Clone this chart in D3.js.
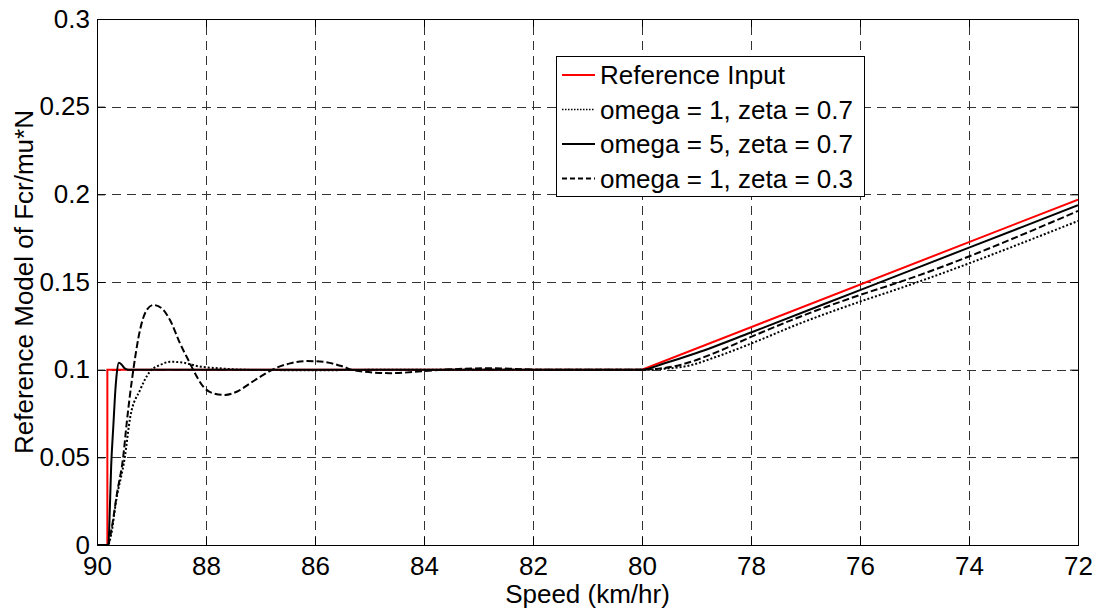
<!DOCTYPE html>
<html>
<head>
<meta charset="utf-8">
<script src="https://cdn.jsdelivr.net/npm/d3@7"></script>
<style>
  body { margin: 0; background: #fff; }
  text { font-family: "Liberation Sans", Arial, sans-serif; fill: #000; }
</style>
</head>
<body>
<svg id="chart" width="1098" height="610"></svg>
<script>
// Axis ticks
const speedTicks = [90, 88, 86, 84, 82, 80, 78, 76, 74, 72];
const valueTicks = [0, 0.05, 0.1, 0.15, 0.2, 0.25, 0.3];
const valueTickLabels = ["0", "0.05", "0.1", "0.15", "0.2", "0.25", "0.3"];

// Series: [speed (km/hr), normalised force]
const referenceInput = [
  [90, 0], [89.81, 0], [89.81, 0.1], [80, 0.1], [72, 0.197]
];
const omega1Zeta07 = [
  [90, 0], [89.80, 0], [89.74, 0.006], [89.65, 0.025], [89.49, 0.05],
  [89.39, 0.073], [89.21, 0.0884], [89.03, 0.0989], [88.84, 0.1027],
  [88.66, 0.1045], [88.42, 0.104], [88.17, 0.1021], [87.68, 0.1006],
  [87.07, 0.0998], [85.91, 0.0997], [84.44, 0.1], [80, 0.1],
  [79.24, 0.1017], [78.63, 0.1074], [77.99, 0.115], [77.10, 0.1264],
  [76.0, 0.1388], [75.27, 0.1464], [72, 0.1848]
];
const omega5Zeta07 = [
  [90, 0], [89.79, 0], [89.77, 0.015], [89.74, 0.045], [89.70, 0.068],
  [89.67, 0.085], [89.64, 0.097], [89.60, 0.104], [89.55, 0.103],
  [89.50, 0.101], [89.43, 0.1], [80, 0.1], [79.6, 0.1035], [79, 0.1095],
  [78, 0.1212], [76, 0.1454], [74, 0.1696], [72, 0.1938]
];
const omega1Zeta03 = [
  [90, 0], [89.80, 0], [89.74, 0.008], [89.63, 0.03], [89.52, 0.05],
  [89.45, 0.071], [89.334, 0.0998], [89.211, 0.1226], [89.088, 0.134],
  [88.967, 0.1369], [88.813, 0.135], [88.661, 0.1283], [88.477, 0.115],
  [88.294, 0.1036], [88.233, 0.0998], [88.05, 0.0903], [87.866, 0.0865],
  [87.651, 0.0856], [87.437, 0.0874], [87.193, 0.0922], [86.949, 0.097],
  [86.794, 0.0998], [86.459, 0.1036], [86.152, 0.1049], [85.848, 0.1045],
  [85.481, 0.1017], [85.303, 0.0998], [84.624, 0.098], [83.651, 0.1],
  [82.789, 0.1008], [81.872, 0.1], [80, 0.1], [79.30, 0.1027],
  [78.63, 0.110], [77.99, 0.1188], [77.10, 0.1302], [76.0, 0.1426],
  [75.27, 0.150], [72, 0.1905]
];

const legendLabels = [
  "Reference Input",
  "omega = 1, zeta = 0.7",
  "omega = 5, zeta = 0.7",
  "omega = 1, zeta = 0.3"
];

const plot = { left: 97, right: 1078, top: 19, bottom: 545 };
const fontSize = 26;

const svg = d3.select("#chart");

const x = d3.scaleLinear().domain([90, 72]).range([plot.left, plot.right]);
const y = d3.scaleLinear().domain([0, 0.3]).range([plot.bottom, plot.top]);

// Plot background
svg.append("rect")
  .attr("x", plot.left).attr("y", plot.top)
  .attr("width", plot.right - plot.left).attr("height", plot.bottom - plot.top)
  .attr("fill", "#fff");

// Dashed grid
const grid = svg.append("g").attr("stroke", "#333").attr("stroke-width", 1)
  .attr("stroke-dasharray", "9,6").attr("fill", "none");
grid.selectAll("line.vx").data(speedTicks.slice(1, -1)).join("line")
  .attr("x1", d => Math.round(x(d)) + 0.5).attr("x2", d => Math.round(x(d)) + 0.5)
  .attr("y1", plot.bottom).attr("y2", plot.top);
grid.selectAll("line.hy").data(valueTicks.slice(1, -1)).join("line")
  .attr("y1", d => Math.round(y(d)) + 0.5).attr("y2", d => Math.round(y(d)) + 0.5)
  .attr("x1", plot.left).attr("x2", plot.right);

// Axes with inward ticks
const xAxis = d3.axisBottom(x).tickValues(speedTicks).tickSize(-8).tickPadding(12)
  .tickFormat(d3.format("d"));
const yAxis = d3.axisLeft(y).tickValues(valueTicks).tickSize(-8).tickPadding(7)
  .tickFormat((d, i) => valueTickLabels[i]);
const xTop = d3.axisTop(x).tickValues(speedTicks).tickSize(-8).tickFormat("");
const yRight = d3.axisRight(y).tickValues(valueTicks).tickSize(-8).tickFormat("");

function styleAxis(g) {
  g.select(".domain").remove();
  g.selectAll(".tick line").attr("stroke", "#000");
  g.selectAll(".tick text").attr("font-size", fontSize).attr("font-family", "Liberation Sans, Arial, sans-serif").attr("fill", "#000");
}
svg.append("g").attr("transform", `translate(0,${plot.bottom})`).call(xAxis).call(styleAxis);
svg.append("g").attr("transform", `translate(${plot.left},0)`).call(yAxis).call(styleAxis);
svg.append("g").attr("transform", `translate(0,${plot.top})`).call(xTop).call(styleAxis);
svg.append("g").attr("transform", `translate(${plot.right},0)`).call(yRight).call(styleAxis);

// Series
const line = d3.line().x(d => x(d[0])).y(d => y(d[1]));
const smooth = d3.line().x(d => x(d[0])).y(d => y(d[1])).curve(d3.curveMonotoneX);

const series = [
  { data: referenceInput, gen: line, color: "#ff0000", dash: null, width: 2 },
  { data: omega1Zeta07, gen: smooth, color: "#000", dash: "2,2", width: 2 },
  { data: omega5Zeta07, gen: smooth, color: "#000", dash: null, width: 2 },
  { data: omega1Zeta03, gen: smooth, color: "#000", dash: "7,3", width: 2 }
];

svg.append("defs").append("clipPath").attr("id", "plotClip")
  .append("rect").attr("x", plot.left).attr("y", plot.top - 2)
  .attr("width", plot.right - plot.left).attr("height", plot.bottom - plot.top + 2);

const lines = svg.append("g").attr("clip-path", "url(#plotClip)");
series.forEach(s => {
  lines.append("path")
    .attr("d", s.gen(s.data))
    .attr("fill", "none")
    .attr("stroke", s.color)
    .attr("stroke-width", s.width)
    .attr("stroke-dasharray", s.dash);
});

// Box
svg.append("rect")
  .attr("x", plot.left + 0.5).attr("y", plot.top + 0.5)
  .attr("width", plot.right - plot.left).attr("height", plot.bottom - plot.top)
  .attr("fill", "none").attr("stroke", "#000").attr("stroke-width", 1);

// Axis titles
svg.append("text")
  .attr("x", (plot.left + plot.right) / 2).attr("y", 603)
  .attr("text-anchor", "middle").attr("font-size", fontSize)
  .text("Speed (km/hr)");
svg.append("text")
  .attr("transform", `translate(33,${(plot.top + plot.bottom) / 2}) rotate(-90)`)
  .attr("text-anchor", "middle").attr("font-size", fontSize)
  .text("Reference Model of Fcr/mu*N");

// Legend
const legend = svg.append("g");
const lg = { x: 556, y: 56, w: 308, h: 140, rowY: 75, rowStep: 34.5 };
legend.append("rect")
  .attr("x", lg.x + 0.5).attr("y", lg.y + 0.5).attr("width", lg.w).attr("height", lg.h)
  .attr("fill", "#fff").attr("stroke", "#000").attr("stroke-width", 1);
series.forEach((s, i) => {
  const cy = lg.rowY + i * lg.rowStep;
  legend.append("line")
    .attr("x1", 562).attr("x2", 595).attr("y1", cy).attr("y2", cy)
    .attr("stroke", s.color).attr("stroke-width", s.dash === "2,2" ? 1.5 : 2)
    .attr("stroke-dasharray", s.dash === "2,2" ? "1.5,1.5" : (s.dash ? "5,3" : null));
  legend.append("text")
    .attr("x", 600).attr("y", cy).attr("dy", "0.35em")
    .attr("font-size", fontSize)
    .text(legendLabels[i]);
});
</script>
</body>
</html>
